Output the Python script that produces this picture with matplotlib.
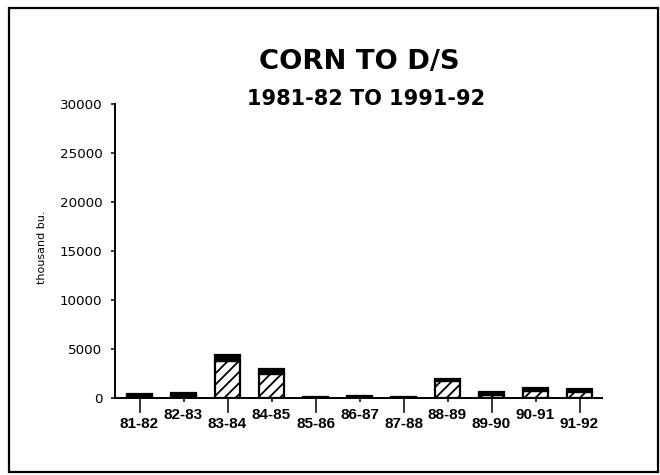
import matplotlib
matplotlib.use("Agg")
import matplotlib.pyplot as plt
from matplotlib.patches import Rectangle
import numpy as np

# Crop years and quantities moved (thousand bushels)
seasons = ["81-82", "82-83", "83-84", "84-85", "85-86", "86-87",
           "87-88", "88-89", "89-90", "90-91", "91-92"]
base_part = [200, 250, 3800, 2450, 50, 80, 50, 1750, 300, 700, 600]
top_part = [250, 300, 550, 550, 100, 120, 100, 200, 300, 300, 300]

y_ticks = [0, 5000, 10000, 15000, 20000, 25000, 30000]

plt.rcParams["hatch.linewidth"] = 1.3

fig = plt.figure(figsize=(6.6, 4.75), dpi=100)
ax = fig.add_axes([115 / 660, 77 / 475, 487 / 660, 294 / 475])

x = np.arange(len(seasons))
ax.bar(x, base_part, width=0.57, color="white", edgecolor="black",
       linewidth=1.6, hatch="///", zorder=2)
ax.bar(x, top_part, width=0.57, bottom=base_part, color="black",
       edgecolor="black", linewidth=1.6, zorder=2)

ax.set_xlim(-0.557, 10.51)
ax.set_ylim(0, 30000)

# Staggered category labels: alternate seasons hang lower on long ticks
lower = x[0::2]
upper = x[1::2]
ax.set_xticks(lower, [seasons[i] for i in lower])
ax.set_xticks(upper, [seasons[i] for i in upper], minor=True)
ax.tick_params(axis="x", which="major", length=11, width=1.1, pad=2.5,
               direction="out")
ax.tick_params(axis="x", which="minor", length=3, width=1.1, pad=4,
               direction="out")
for lab in ax.get_xticklabels(which="both"):
    lab.set_fontfamily("Liberation Sans")
    lab.set_fontweight("bold")
    lab.set_fontsize(11)

ax.set_yticks(y_ticks, [str(v) for v in y_ticks])
ax.tick_params(axis="y", length=3, width=1.1, pad=6, labelsize=9.7)

for side in ("top", "right"):
    ax.spines[side].set_visible(False)
for side in ("left", "bottom"):
    ax.spines[side].set_linewidth(1.4)

fig.text(42 / 660, 1 - 247 / 475, "thousand bu.", rotation=90,
         ha="center", va="center", fontsize=8)

fig.text(359 / 660, 1 - 62 / 475, "CORN TO D/S", ha="center", va="center",
         fontsize=19.7, fontweight="bold")
fig.text(366 / 660, 1 - 98.5 / 475, "1981-82 TO 1991-92", ha="center",
         va="center", fontsize=15, fontweight="bold")

# Outer frame around the whole chart
fig.patches.append(Rectangle((9 / 660, 3 / 475), 649 / 660, 464 / 475,
                             transform=fig.transFigure, fill=False,
                             edgecolor="black", linewidth=1.6))

fig.savefig("out.png", dpi=100)
